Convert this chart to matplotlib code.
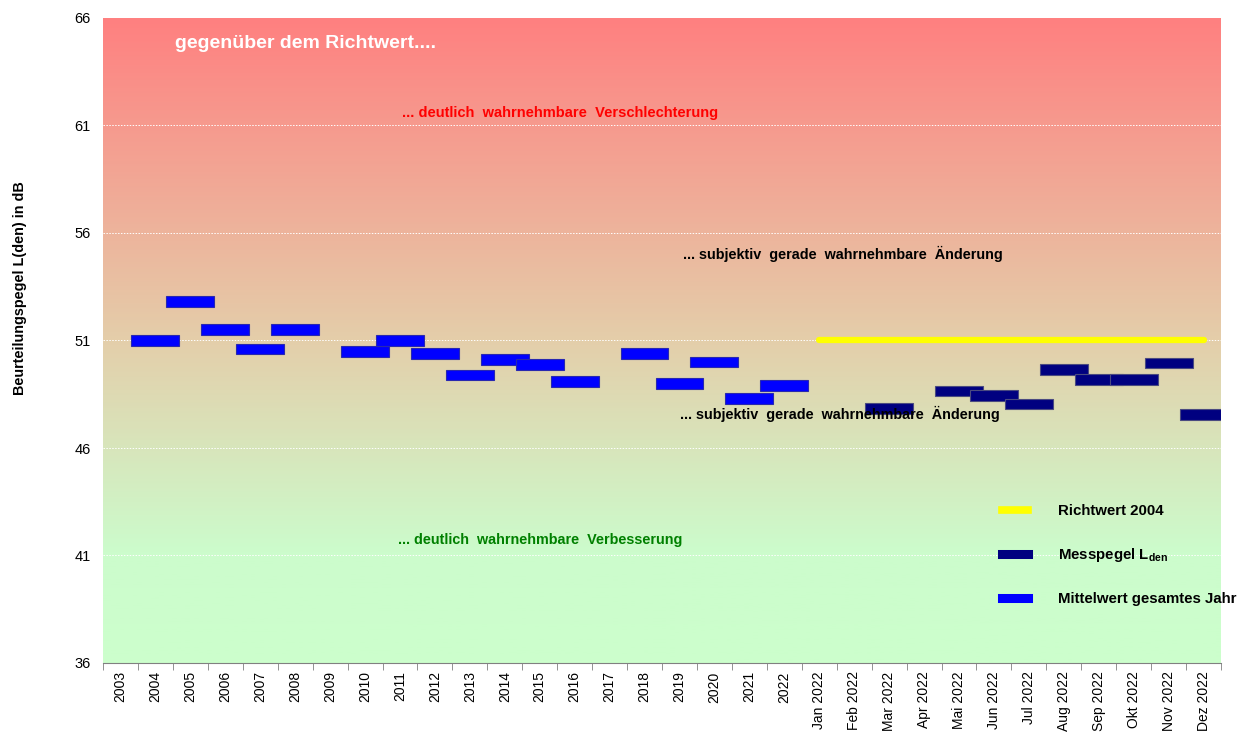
import numpy as np
import matplotlib
matplotlib.use('Agg')
import matplotlib.pyplot as plt
from matplotlib.lines import Line2D
from matplotlib.colors import LinearSegmentedColormap

plt.rcParams['font.family'] = ['Liberation Sans', 'DejaVu Sans']
plt.rcParams['mathtext.fontset'] = 'custom'
plt.rcParams['mathtext.rm'] = 'Liberation Sans'
plt.rcParams['mathtext.bf'] = 'Liberation Sans:bold'

# categories
jahre = [str(j) for j in range(2003, 2023)]
monate = ['Jan 2022', 'Feb 2022', 'Mar 2022', 'Apr 2022', 'Mai 2022', 'Jun 2022',
          'Jul 2022', 'Aug 2022', 'Sep 2022', 'Okt 2022', 'Nov 2022', 'Dez 2022']
kategorien = jahre + monate

# Mittelwert gesamtes Jahr (2003..2022)
mittelwert = [np.nan, 51.0, 52.8, 51.5, 50.6, 51.5, np.nan, 50.5, 51.0, 50.4,
              49.4, 50.1, 49.9, 49.1, np.nan, 50.4, 49.0, 50.0, 48.3, 48.9]
# Messpegel Lden (Monate 2022)
messpegel = [np.nan, np.nan, 47.85, np.nan, 48.65, 48.45, 48.05, 49.65, 49.2, 49.2, 49.95, 47.55]
# Richtwert 2004
richtwert = [51.0] * 12

y_ticks = [36, 41, 46, 51, 56, 61, 66]

fig = plt.figure(figsize=(12.51, 7.38), dpi=100)
ax = fig.add_axes([103/1251, 1-663/738, 1118/1251, 645/738])

n = len(kategorien)
ax.set_xlim(-0.5, n-0.5)
ax.set_ylim(36, 66)

# background gradient red -> green
cmap = LinearSegmentedColormap.from_list('bg', [
    (0.0, (204/255, 255/255, 204/255)),
    (0.17, (204/255, 252/255, 204/255)),
    (0.5, (228/255, 206/255, 170/255)),
    (1.0, (255/255, 128/255, 128/255))])
grad = np.linspace(0, 1, 400).reshape(-1, 1)
ax.imshow(grad, extent=(-0.5, n-0.5, 36, 66), origin='lower', aspect='auto', cmap=cmap, zorder=0)

for y in y_ticks[1:-1]:
    ax.axhline(y, color='white', lw=0.7, ls=(0, (1.5, 1.5)), zorder=1)

bw = 1.37
dicke = 0.5
x_j = np.arange(len(jahre))
mw = np.array(mittelwert)
ok = ~np.isnan(mw)
ax.bar(x_j[ok], dicke, bottom=mw[ok]-dicke/2, width=bw, color='#0000FF',
       edgecolor='#2828B0', linewidth=0.8, zorder=3)

x_m = np.arange(len(jahre), n)
mp = np.array(messpegel)
ok = ~np.isnan(mp)
ax.bar(x_m[ok], dicke, bottom=mp[ok]-dicke/2, width=bw, color='#000080',
       edgecolor='#4a4a80', linewidth=0.8, zorder=3)

ax.plot(x_m, richtwert, color='#FFFF00', lw=4.5, solid_capstyle='round', zorder=2)

# axes styling
ax.set_xticks(np.arange(n))
ax.set_xticklabels(kategorien, rotation=90, fontsize=10, va='top')
ax.tick_params(axis='x', which='major', length=0, pad=6)
ax.set_xticks(np.arange(-0.5, n), minor=True)
ax.tick_params(axis='x', which='minor', length=5, color='#808080', direction='out')
ax.set_yticks(y_ticks)
ax.set_yticklabels([str(v) for v in y_ticks], fontsize=10.5)
ax.tick_params(axis='y', length=0, pad=9)
for s in ['left', 'right', 'top']:
    ax.spines[s].set_visible(False)
ax.spines['bottom'].set_color('#808080')
ax.set_ylabel('Beurteilungspegel L(den) in dB', fontsize=10.4, fontweight='bold')
ax.yaxis.set_label_coords(-0.068, 0.581)

# annotations
ax.text(1.56, 64.8, 'gegenüber dem Richtwert....', color='white', fontsize=14,
        fontweight='bold', ha='left', va='center', zorder=4)
ax.text(12.58, 61.58, '... deutlich  wahrnehmbare  Verschlechterung', color='#FF0000',
        fontsize=10.5, fontweight='bold', ha='center', va='center', zorder=4)
ax.text(20.68, 55.02, '... subjektiv  gerade  wahrnehmbare  Änderung', color='black',
        fontsize=10.35, fontweight='bold', ha='center', va='center', zorder=4)
ax.text(20.59, 47.58, '... subjektiv  gerade  wahrnehmbare  Änderung', color='black',
        fontsize=10.35, fontweight='bold', ha='center', va='center', zorder=4)
ax.text(12.01, 41.72, '... deutlich  wahrnehmbare  Verbesserung', color='#008000',
        fontsize=10.4, fontweight='bold', ha='center', va='center', zorder=4)

handles = [Line2D([], [], color='#FFFF00', lw=5.5),
           Line2D([], [], color='#000080', lw=6.5),
           Line2D([], [], color='#0000FF', lw=6.5)]
labels = ['Richtwert 2004', r'Messpegel L$_{\mathbf{den}}$', 'Mittelwert gesamtes Jahr']
leg = ax.legend(handles, labels, loc='upper left', bbox_to_anchor=(0.804, 0.246),
                frameon=False, borderpad=0, borderaxespad=0, handlelength=1.75,
                handletextpad=2.0, labelspacing=1.85, prop={'weight': 'bold', 'size': 10.8})
leg.set_zorder(5)

fig.savefig('out.png', dpi=100)
